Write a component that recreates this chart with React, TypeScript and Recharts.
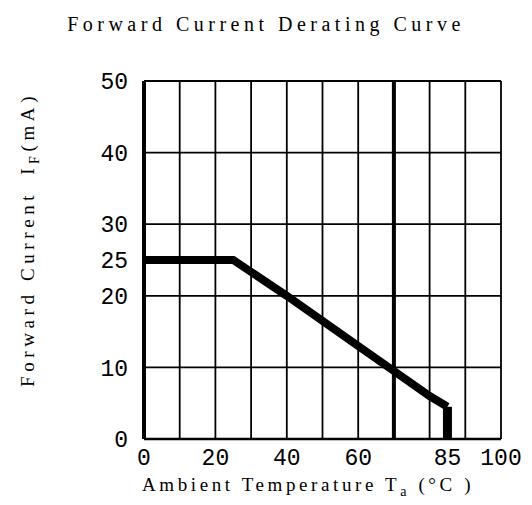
import React from "react";
import {
  LineChart,
  Line,
  XAxis,
  YAxis,
  ReferenceLine,
} from "recharts";

// derating curve
const temps = [0, 25, 40, 60, 70, 80, 85];
const currents = [25, 25, 20, 13, 9.5, 6, 4.5];
// vertical drop at the max temperature
const dropTemps = [85, 85];
const dropCurrents = [4.5, 0];

const xTicks = [0, 20, 40, 60, 85, 100];
const yTicks = [0, 10, 20, 25, 30, 40, 50];
const gridX = [10, 20, 30, 40, 50, 60, 80, 90, 100];
const gridY = [10, 20, 30, 40, 50];
const markX = 70;

const curve = temps.map((t, i) => ({ temp: t, current: currents[i] }));
const drop = dropTemps.map((t, i) => ({ temp: t, current: dropCurrents[i] }));

const serif = "'Liberation Serif', 'DejaVu Serif', serif";
const mono = "'Liberation Mono', 'DejaVu Sans Mono', monospace";

export default function App() {
  return (
    <div style={{ position: "absolute", left: 0, top: 0, width: 532, height: 505, background: "#fff" }}>
      <div
        style={{
          position: "absolute",
          top: 14,
          left: 0,
          width: 532,
          textAlign: "center",
          fontFamily: serif,
          fontSize: 20,
          lineHeight: "20px",
          letterSpacing: 4.5,
          color: "#000",
        }}
      >
        Forward Current Derating Curve
      </div>
      <LineChart
        width={532}
        height={505}
        data={curve}
        margin={{ top: 81, right: 31, bottom: 36, left: 0 }}
      >
        {gridX.map((v) => (
          <ReferenceLine key={"gx" + v} x={v} stroke="#000" strokeWidth={1.8} />
        ))}
        <ReferenceLine x={markX} stroke="#000" strokeWidth={4} />
        {gridY.map((v) => (
          <ReferenceLine key={"gy" + v} y={v} stroke="#000" strokeWidth={1.8} />
        ))}
        <XAxis
          dataKey="temp"
          type="number"
          domain={[0, 100]}
          ticks={xTicks}
          interval={0}
          height={30}
          tickSize={0}
          tickMargin={10}
          axisLine={{ stroke: "#000", strokeWidth: 2.5 }}
          tick={{ fill: "#000", fontSize: 23, fontFamily: mono }}
          label={{
            content: () => (
              <text x={142} y={491} fontFamily={serif} fontSize={19} letterSpacing={3.6} fill="#000">
                Ambient Temperature T
                <tspan fontSize={14} dy={5}>a</tspan>
                <tspan dy={-5}> (°C )</tspan>
              </text>
            ),
          }}
        />
        <YAxis
          type="number"
          domain={[0, 50]}
          ticks={yTicks}
          interval={0}
          width={144}
          tickSize={0}
          tickMargin={16}
          axisLine={{ stroke: "#000", strokeWidth: 4 }}
          tick={{ fill: "#000", fontSize: 23, fontFamily: mono }}
          label={{
            content: () => (
              <text
                x={34}
                y={387}
                transform="rotate(-90 34 387)"
                fontFamily={serif}
                fontSize={19}
                letterSpacing={4.6}
                fill="#000"
              >
                Forward Current
                <tspan dx={16}>I</tspan>
                <tspan fontSize={14} dy={5}>F</tspan>
                <tspan dy={-5}>(mA)</tspan>
              </text>
            ),
          }}
        />
        <Line
          data={curve}
          dataKey="current"
          type="linear"
          stroke="#000"
          strokeWidth={8}
          dot={false}
          activeDot={false}
          strokeLinejoin="miter"
          isAnimationActive={false}
        />
        <Line
          data={drop}
          dataKey="current"
          type="linear"
          stroke="#000"
          strokeWidth={9}
          dot={false}
          activeDot={false}
          isAnimationActive={false}
        />
      </LineChart>
    </div>
  );
}
